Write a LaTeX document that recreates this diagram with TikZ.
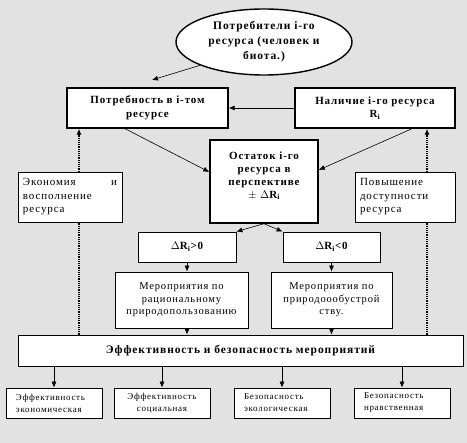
\documentclass[tikz,border=0pt]{standalone}
\usepackage{fontspec}
\setmainfont{Liberation Serif}[LetterSpace=8]
\usetikzlibrary{arrows.meta,shapes.geometric,backgrounds}
\definecolor{bggray}{RGB}{226,226,226}

\begin{document}
\begin{tikzpicture}[x=1pt, y=-1pt,
  mainbox/.style={draw, line width=1.4pt, fill=white, align=center, inner sep=2pt,
    font=\bfseries\fontsize{11}{13.5}\selectfont},
  smallbox/.style={draw, line width=0.8pt, fill=white, inner sep=2pt},
  tipbox/.style={smallbox, align=left, minimum width=96pt, minimum height=30pt,
    text width=76pt, font=\fontsize{9}{12}\selectfont},
  arr/.style={-{Latex[length=6pt,width=5pt]}, line width=0.6pt},
  dotarr/.style={-{Latex[length=6pt,width=5pt]}, densely dotted, line width=1.2pt}]
% consumers
\node[ellipse, draw, line width=1.4pt, fill=white, minimum width=176pt, minimum height=66pt,
  inner sep=0pt, align=center, font=\bfseries\fontsize{11.5}{15}\selectfont]
  (cons) at (264,42) {Потребители i-го\\ресурса (человек и\\биота.)};
% need and availability
\node[mainbox, minimum width=161pt, minimum height=40pt] (need) at (147.5,108)
  {Потребность в i-том\\ресурсе};
\node[mainbox, minimum width=160pt, minimum height=40pt] (avail) at (375,108)
  {Наличие i-го ресурса\\R\textsubscript{i}};
% remainder
\node[mainbox, minimum width=108pt, minimum height=83pt, text width=100pt,
  font=\bfseries\fontsize{11}{12.8}\selectfont] (rest) at (264,181.5)
  {Остаток i-го\\ресурса в\\перспективе\\$\pm$ $\Delta$R\textsubscript{i}\\ \mbox{}};
% side boxes
\node[smallbox, minimum width=104pt, minimum height=50pt, text width=94pt, align=justify,
  font=\fontsize{11}{13.5}\selectfont] (econ) at (70,197)
  {Экономия\hfill и\\восполнение\\ресурса};
\node[smallbox, minimum width=100pt, minimum height=50pt, text width=90pt, align=left,
  font=\fontsize{11}{13.5}\selectfont] (access) at (405,197)
  {Повышение\\доступности\\ресурса};
% delta boxes
\node[smallbox, minimum width=98pt, minimum height=30pt, font=\bfseries\fontsize{11}{13}\selectfont]
  (dpos) at (187,247) {$\Delta$R\textsubscript{i}>0};
\node[smallbox, minimum width=97pt, minimum height=30pt, font=\bfseries\fontsize{11}{13}\selectfont]
  (dneg) at (331.5,247) {$\Delta$R\textsubscript{i}<0};
% measures
\node[smallbox, minimum width=133pt, minimum height=56pt, align=center,
  font=\fontsize{10.5}{12.5}\selectfont] (measpos) at (181.5,300)
  {Мероприятия по\\рациональному\\природопользованию};
\node[smallbox, minimum width=121pt, minimum height=56pt, align=center,
  font=\fontsize{10.5}{12.5}\selectfont] (measneg) at (331.5,300)
  {Мероприятия по\\природоообустрой\\ству.};
% efficiency and safety
\node[smallbox, minimum width=445pt, minimum height=31pt, font=\bfseries\fontsize{11.5}{13}\selectfont]
  (eff) at (240.5,350.5) {Эффективность и безопасность мероприятий};
\node[tipbox] (effecon) at (54,403) {Эффективность\\экономическая};
\node[tipbox, align=center] (effsoc) at (162,403) {Эффективность\\социальная};
\node[tipbox] (safeeco) at (282,403) {Безопасность\\экологическая};
\node[tipbox] (safemor) at (402,403) {Безопасность\\нравственная};
% connectors
\draw[arr] (cons.200) -- (152,80);
\draw[arr] (avail.west) -- (need.east);
\draw[arr] (need.south -| 125,0) -- (rest.west |- 0,172);
\draw[arr] (avail.south -| 412,0) -- (rest.east |- 0,170);
\draw[arr] (rest.south) -- (dpos.north east);
\draw[arr] (rest.south) -- (dneg.north west);
\draw[arr] (dpos.south) -- (measpos.north -| dpos.south);
\draw[arr] (dneg.south) -- (measneg.north -| dneg.south);
\draw[arr] (measpos.south -| dpos.south) -- (eff.north -| dpos.south);
\draw[arr] (measneg.south -| dneg.south) -- (eff.north -| dneg.south);
\foreach \b in {effecon,effsoc,safeeco,safemor}
  \draw[arr] (eff.south -| \b.north) -- (\b.north);
% background and feedback lines behind the side boxes
\begin{pgfonlayer}{background}
  \fill[bggray] (0,0) rectangle (467,443);
  \draw[dotarr] (eff.north -| 79,0) -- (need.south -| 79,0);
  \draw[dotarr] (eff.north -| 427,0) -- (avail.south -| 427,0);
\end{pgfonlayer}
\useasboundingbox (0,0) rectangle (467,443);
\end{tikzpicture}
\end{document}
